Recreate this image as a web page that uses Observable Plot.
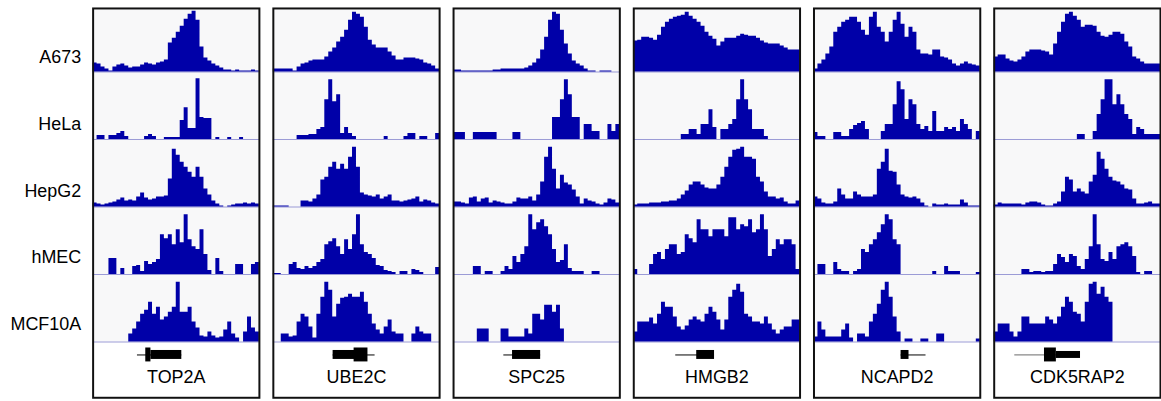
<!DOCTYPE html>
<html><head><meta charset="utf-8">
<script src="https://cdn.jsdelivr.net/npm/d3@7"></script>
<script src="https://cdn.jsdelivr.net/npm/@observablehq/plot@0.6"></script>
<style>
html,body{margin:0;padding:0;background:#fff;overflow:hidden;}
#chart svg{display:block;}
</style></head><body><div id="chart"></div>
<script>
// ---- data (signal heights per bin, 42 bins per locus) ----
const genes = ["TOP2A","UBE2C","SPC25","HMGB2","NCAPD2","CDK5RAP2"];
const cells = ["A673","HeLa","HepG2","hMEC","MCF10A"];

const TOP2A = [
  [9,8,5,3,1,5,7,8,6,4,5,5,7,9,8,7,9,10,12,29,34,40,46,53,58,61,52,25,14,11,8,6,4,2,2,1,2,1,1,1,2,1],
  [0,4,4,0,4,4,6,8,3,0,0,0,0,3,5,3,0,0,2,2,2,2,19,32,11,11,61,22,21,21,0,2,0,0,2,0,0,2,0,0,0,0],
  [4,3,2,3,4,5,7,9,6,7,6,10,14,9,7,8,10,10,11,28,58,52,45,40,35,30,40,30,18,12,6,3,1,0,1,2,3,3,4,3,4,3],
  [0,0,0,0,16,16,0,6,0,0,8,9,3,13,10,12,15,40,36,40,30,45,32,60,35,28,25,45,20,4,0,16,3,0,0,0,10,10,0,0,10,12],
  [0,0,0,0,0,0,0,0,0,8,13,20,28,32,40,28,35,22,25,30,35,60,30,30,35,20,14,6,5,10,6,4,5,12,20,8,4,0,10,25,14,10]
];
const UBE2C = [
  [3,3,3,3,3,1,5,8,9,11,12,12,12,15,20,24,30,35,42,52,60,58,55,45,32,27,24,24,24,20,16,12,12,14,14,14,13,12,9,8,6,3],
  [0,0,0,0,0,0,4,4,4,5,5,10,12,40,60,38,45,6,12,6,3,0,0,0,0,0,0,0,3,0,0,0,0,3,6,6,0,3,3,0,0,6],
  [1,1,1,1,0,0,0,6,6,5,8,12,27,30,40,45,38,43,38,50,60,40,14,12,11,10,12,8,10,12,6,6,5,6,7,8,10,5,7,6,4,3],
  [1,1,0,0,10,12,6,5,8,6,8,12,15,30,33,36,28,20,35,25,40,60,30,22,20,16,9,8,4,3,2,0,3,3,0,5,4,2,0,0,0,7],
  [0,0,8,8,5,6,20,28,25,15,4,28,45,60,52,25,38,44,45,48,45,45,50,40,28,18,12,8,15,22,10,8,8,0,0,8,15,10,8,8,0,0]
];
const SPC25 = [
  [2,2,1,1,1,1,1,1,1,1,2,2,3,3,3,3,3,3,4,6,9,13,22,35,52,60,58,42,28,18,11,8,6,3,1,1,0,1,1,1,0,0],
  [7,7,7,0,0,7,7,7,7,7,7,0,0,0,0,7,7,0,0,0,0,0,0,0,0,22,22,40,60,45,22,22,0,15,15,8,8,0,0,15,8,15],
  [5,5,4,3,9,10,5,8,9,4,6,5,4,3,3,5,9,8,8,10,6,12,25,50,60,38,18,32,24,22,17,10,3,8,6,5,3,2,4,8,7,4],
  [0,0,0,0,0,8,8,0,3,3,0,0,3,8,5,18,12,20,28,60,45,52,55,48,40,25,12,14,30,6,3,3,3,0,0,3,3,0,0,0,0,0],
  [0,0,0,0,0,0,13,13,13,0,0,0,13,13,5,5,5,5,13,8,28,28,22,37,37,30,37,13,0,0,0,0,0,0,0,0,0,0,0,0,0,0]
];
const HMGB2 = [
  [31,32,35,35,34,32,37,45,50,53,55,56,57,60,56,53,50,46,40,36,33,26,30,34,34,34,36,38,37,36,36,34,31,29,28,28,28,26,24,22,22,22],
  [0,0,0,0,0,0,0,0,0,0,0,0,5,5,10,10,5,15,15,30,12,0,10,10,15,20,40,60,40,30,10,10,10,3,0,0,0,0,0,0,0,0],
  [2,3,3,3,4,4,4,5,5,6,6,8,12,16,22,25,25,22,19,18,18,22,30,40,50,57,58,60,50,50,48,30,25,15,10,10,8,9,5,3,3,6],
  [5,0,0,0,10,20,22,15,25,30,30,20,22,40,36,32,55,45,45,38,45,45,45,38,57,57,45,50,48,55,42,45,60,45,18,25,35,30,35,35,30,5],
  [10,20,20,20,24,18,28,40,35,35,25,15,12,16,22,25,22,20,28,35,30,22,12,22,45,52,58,50,28,25,20,20,18,25,18,12,8,12,15,15,22,22]
];
const NCAPD2 = [
  [3,8,12,18,25,40,45,50,52,55,55,50,42,37,55,60,45,40,30,40,52,60,48,35,45,40,22,18,18,17,22,22,15,14,12,8,6,8,10,8,7,6],
  [7,3,3,0,0,7,7,3,3,10,14,16,18,10,0,0,0,8,15,15,35,58,50,20,40,35,15,10,13,8,28,8,8,12,10,12,8,20,15,10,0,8],
  [10,8,4,3,3,5,18,12,8,8,15,12,10,10,10,12,38,45,58,36,35,22,12,10,9,10,8,4,1,0,3,2,2,3,2,2,2,7,4,1,1,1],
  [0,10,10,0,0,12,5,3,3,0,3,5,25,22,30,35,42,50,60,55,35,30,0,0,0,0,0,0,0,0,3,0,0,8,3,3,3,0,0,0,0,2],
  [5,20,12,5,5,5,5,12,18,4,0,8,8,5,20,28,38,52,60,45,25,10,0,3,3,0,0,3,3,0,0,8,8,0,0,0,0,0,0,0,0,3]
];
const CDK5RAP2 = [
  [15,17,17,13,11,10,12,15,20,22,22,22,21,20,17,28,40,50,58,60,56,52,45,47,47,46,40,36,35,37,40,40,38,30,25,15,13,10,8,8,8,8],
  [0,0,0,0,0,0,0,0,0,0,0,0,0,0,0,0,0,0,0,0,0,5,5,0,0,8,25,40,60,60,35,45,35,25,20,5,12,10,5,5,5,5],
  [2,4,3,3,3,3,3,2,4,5,5,4,2,1,1,3,5,15,30,27,15,18,15,13,25,32,55,48,38,30,26,25,22,18,17,8,3,3,4,5,3,3],
  [0,0,0,0,0,0,0,5,5,2,3,3,2,3,3,10,20,17,12,20,18,8,5,15,28,60,30,15,13,22,15,28,30,32,28,18,2,0,3,3,0,0],
  [10,18,18,18,10,5,10,25,25,18,18,18,18,25,22,18,25,35,45,40,30,28,20,40,58,60,48,55,45,40,0,0,0,0,0,0,0,0,0,0,0,0]
];

// gene models, in bin coordinates: intron line span and blocks [start, end, kind]
const geneSpans = [[11.2,22.4],[15.1,25.7],[12.7,22.0],[10.6,20.4],[22.0,28.3],[5.2,21.8]];
const geneBlocks = [
  [[13.3,14.6,"tall"],[14.6,22.4,"mid"]],
  [[15.1,20.6,"mid"],[20.4,23.9,"tall"]],
  [[14.9,22.0,"mid"]],
  [[15.9,20.4,"mid"]],
  [[22.0,24.0,"mid"]],
  [[12.7,15.7,"tall"],[15.7,21.8,"thin"]]
];

// ---- layout (code, not data) ----
const NB = 42;
const tracksByGene = [TOP2A, UBE2C, SPC25, HMGB2, NCAPD2, CDK5RAP2];
const rowStep = 67.8, geneBand = 56, topY = 391;
const base = r => geneBand + (cells.length - 1 - r) * rowStep;
const labelY = r => 341.5 - r * 66.8;
const geneLineY = 43;
const blockH = {tall: 14, mid: 9, thin: 7};
const blue = "#0000a8";

const rows = [];
tracksByGene.forEach((tracks, gi) => {
  tracks.forEach((vals, ci) => {
    vals.forEach((v, i) => rows.push({gene: genes[gi], cell: cells[ci], x: i, b: base(ci), v}));
    rows.push({gene: genes[gi], cell: cells[ci], x: NB, b: base(ci), v: vals[vals.length - 1]});
  });
});
const lines = genes.map((g, i) => ({gene: g, x1: geneSpans[i][0], x2: geneSpans[i][1]}));
const blocks = genes.flatMap((g, i) => geneBlocks[i].map(([a, b, k]) => ({gene: g, x1: a, x2: b, h: blockH[k]})));

const chart = Plot.plot({
  width: 1166, height: 401,
  marginTop: 8, marginBottom: 2, marginLeft: 93, marginRight: 0,
  x: {domain: [0, NB], axis: null},
  y: {domain: [0, topY], axis: null},
  fx: {domain: genes, paddingInner: 0.075, paddingOuter: 0, axis: null, label: null},
  style: {fontFamily: "'Liberation Sans', Arial, sans-serif", fontSize: "18px", background: "#fff", color: "#000"},
  marks: [
    Plot.rect([0], {x1: 0, x2: NB, y1: geneBand, y2: topY, fill: "#f8f8f9"}),
    Plot.ruleY(cells.map((c, i) => base(i)), {stroke: "#9a9ad6", strokeWidth: 1}),
    Plot.areaY(rows, {x: "x", y1: "b", y2: d => d.b + d.v, z: d => d.cell, fx: "gene", curve: "step-after", fill: blue}),
    Plot.ruleY(lines.filter(d => d.gene !== "CDK5RAP2"), {fx: "gene", y: geneLineY, x1: "x1", x2: "x2", stroke: "#000", strokeWidth: 1}),
    Plot.ruleY(lines.filter(d => d.gene === "CDK5RAP2"), {fx: "gene", y: geneLineY, x1: "x1", x2: "x2", stroke: "#888", strokeWidth: 1.2}),
    Plot.rect(blocks, {fx: "gene", x1: "x1", x2: "x2", y1: d => geneLineY - d.h / 2, y2: d => geneLineY + d.h / 2, fill: "#000"}),
    Plot.text(genes, {fx: d => d, x: NB / 2, y: 20.5, text: d => d, fontSize: 18, fill: "#000"}),
    Plot.text(cells, {fx: () => genes[0], x: 0, y: (d, i) => labelY(i), text: d => d, textAnchor: "end", dx: -12, fontSize: 18, fill: "#000"}),
    Plot.frame({stroke: "#111", strokeWidth: 2})
  ]
});
document.getElementById("chart").appendChild(chart);
</script></body></html>
